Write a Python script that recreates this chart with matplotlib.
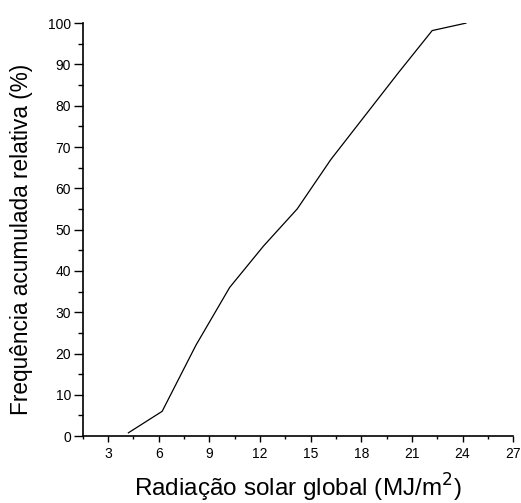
import matplotlib
matplotlib.use("Agg")
import matplotlib.pyplot as plt
from matplotlib.ticker import MultipleLocator

# values
radiacao = [4.2, 6.2, 8.2, 10.2, 12.2, 14.2, 16.2, 18.2, 20.2, 22.2, 24.2]
freq_acum = [0.8, 6.0, 22.0, 36.0, 46.0, 55.0, 67.0, 77.5, 88.0, 98.2, 100.0]

plt.rcParams['font.family'] = ['Liberation Sans', 'DejaVu Sans']

fig = plt.figure(figsize=(5.21, 5.03), dpi=100)
ax = fig.add_axes([0.159, 0.133, 0.826, 0.821])

ax.plot(radiacao, freq_acum, color='black', linewidth=0.9)

ax.set_xlim(1.5, 27)
ax.set_ylim(0, 100)
ax.xaxis.set_major_locator(MultipleLocator(3))
ax.xaxis.set_minor_locator(MultipleLocator(1.5))
ax.yaxis.set_major_locator(MultipleLocator(10))
ax.yaxis.set_minor_locator(MultipleLocator(5))

for side in ['top', 'right']:
    ax.spines[side].set_visible(False)
for side in ['left', 'bottom']:
    ax.spines[side].set_linewidth(1.2)

# y ticks are longer than x ticks in the original
ax.tick_params(axis='y', which='major', direction='out', length=6.5, width=1.0, labelsize=10, pad=2)
ax.tick_params(axis='y', which='minor', direction='out', length=3.5, width=1.0)
ax.tick_params(axis='x', which='major', direction='out', length=4, width=1.0, labelsize=10, pad=4)
ax.tick_params(axis='x', which='minor', direction='out', length=2.5, width=1.0)

ax.set_xlabel('Radiação solar global (MJ/m$^2$)', fontsize=17.5)
ax.set_ylabel('Frequência acumulada relativa (%)', fontsize=16.3)
ax.xaxis.set_label_coords(0.5, -0.087)
ax.yaxis.set_label_coords(-0.116, 0.477)

fig.savefig('out.png', dpi=100)
